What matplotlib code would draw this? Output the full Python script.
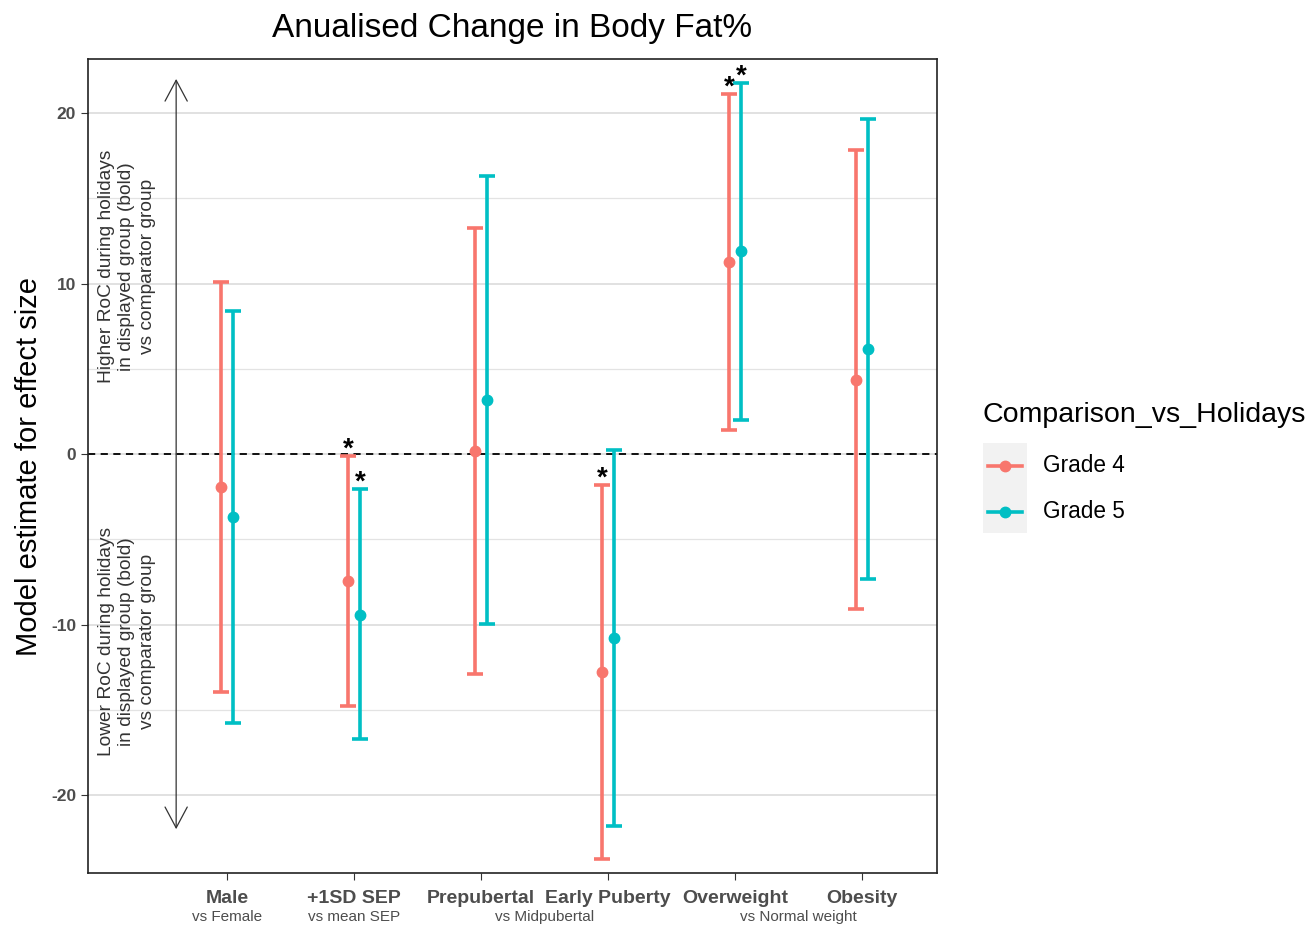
import matplotlib
matplotlib.use("Agg")
import matplotlib.pyplot as plt
from matplotlib.lines import Line2D
from matplotlib.patches import Rectangle
import matplotlib.transforms as mtransforms
import numpy as np

plt.rcParams['font.family'] = ['Liberation Sans', 'DejaVu Sans']
plt.rcParams['axes.unicode_minus'] = False

categories = ["Male", "+1SD SEP", "Prepubertal", "Early Puberty", "Overweight", "Obesity"]
sub_labels = ["vs Female", "vs mean SEP", "vs Midpubertal", "vs Normal weight"]
sub_label_pos = [1, 2, 3.5, 5.5]
groups = ["Grade 4", "Grade 5"]
colors = ["#F8766D", "#00BFC4"]

g4_est = [-1.95, -7.45, 0.18, -12.8, 11.26, 4.34]
g4_low = [-13.96, -14.8, -12.9, -23.75, 1.4, -9.1]
g4_high = [10.1, -0.1, 13.25, -1.8, 21.1, 17.83]
g4_sig = [False, True, False, True, True, False]

g5_est = [-3.7, -9.45, 3.17, -10.8, 11.9, 6.16]
g5_low = [-15.8, -16.7, -9.97, -21.8, 2.0, -7.33]
g5_high = [8.4, -2.05, 16.3, 0.23, 21.76, 19.65]
g5_sig = [False, True, False, False, True, False]

yticks = [-20, -10, 0, 10, 20]

W, H = 1314, 925
fig = plt.figure(figsize=(W/100, H/100), dpi=100)
ax = fig.add_axes([88/W, 1-873/H, (937-88)/W, (873-59)/H])

x = np.arange(1, len(categories)+1)
dodge = 0.047
series = [(g4_est, g4_low, g4_high, g4_sig), (g5_est, g5_low, g5_high, g5_sig)]
for i, (est, lo, hi, sig) in enumerate(series):
    xs = x + (-dodge if i == 0 else dodge)
    est = np.array(est); lo = np.array(lo); hi = np.array(hi)
    ax.errorbar(xs, est, yerr=[est-lo, hi-est], fmt='o', color=colors[i],
                ms=7.5, elinewidth=2.6, capsize=5.5, capthick=2.6, zorder=3)
    for xi, h, s in zip(xs, hi, sig):
        if s:
            ax.text(xi, h - 0.4, "*", ha='center', va='bottom', fontsize=20,
                    fontweight='bold', color='black', zorder=4)

ax.axhline(0, color='black', ls=(0, (4, 3)), lw=1.3, zorder=2)

ax.set_xlim(-0.094, 6.59)
ax.set_ylim(-24.57, 23.17)
ax.set_yticks(yticks)
ax.set_yticks([-15, -5, 5, 15], minor=True)
ax.grid(True, which='major', axis='y', color='#D9D9D9', lw=1.1, zorder=0)
ax.grid(True, which='minor', axis='y', color='#E3E3E3', lw=0.9, zorder=0)
ax.set_axisbelow(True)
ax.set_xticks(x)
ax.set_xticklabels(categories, fontsize=14, fontweight='bold', color='#4D4D4D')
ax.tick_params(axis='x', length=5, color='#333333', pad=7)
ax.tick_params(axis='y', which='major', length=5, color='#333333', labelsize=12.5, labelcolor='#4D4D4D')
ax.tick_params(axis='y', which='minor', length=0)
for lab in ax.get_yticklabels():
    lab.set_fontweight('bold')
for sp in ax.spines.values():
    sp.set_linewidth(1.2)
    sp.set_color('#222222')

sub_tr = mtransforms.blended_transform_factory(ax.transData, fig.transFigure)
for lab, pos in zip(sub_labels, sub_label_pos):
    ax.text(pos, 1 - 924/H, lab, transform=sub_tr,
            ha='center', va='bottom', fontsize=11, color='#4D4D4D')

ax.set_ylabel("Model estimate for effect size", fontsize=21, labelpad=6)
fig.text(512/W, 1 - 29/H, "Anualised Change in Body Fat%", ha='center', va='center', fontsize=24)

# arrow and annotations
arrow_style = '->,head_length=1.5,head_width=0.8'
ax.annotate("", xy=(0.6, 22), xytext=(0.6, 0), arrowprops=dict(arrowstyle=arrow_style, color='#333333', lw=0.9, shrinkA=0, shrinkB=0))
ax.annotate("", xy=(0.6, -22), xytext=(0.6, 0), arrowprops=dict(arrowstyle=arrow_style, color='#333333', lw=0.9, shrinkA=0, shrinkB=0))
ax.text(0.213, 11, "Higher RoC during holidays\nin displayed group (bold)\nvs comparator group",
        rotation=90, ha='center', va='center', fontsize=13.8, color='#333333', linespacing=1.3)
ax.text(0.213, -11, "Lower RoC during holidays\nin displayed group (bold)\nvs comparator group",
        rotation=90, ha='center', va='center', fontsize=13.8, color='#333333', linespacing=1.3)

# legend (ggplot-style)
fig.text(983/W, 1 - 415/H, "Comparison_vs_Holidays", ha='left', va='center', fontsize=20.5)
fig.add_artist(Rectangle((983/W, 1 - 533/H), 44/W, 90/H, transform=fig.transFigure,
                         facecolor='#F2F2F2', edgecolor='none'))
for c, g, yy in zip(colors, groups, [466, 512]):
    fig.add_artist(Line2D([988/W, 1022/W], [1 - yy/H, 1 - yy/H], transform=fig.transFigure,
                          color=c, lw=2.6))
    fig.add_artist(Line2D([1005/W], [1 - yy/H], transform=fig.transFigure,
                          color=c, marker='o', ms=7.5, lw=0))
    fig.text(1043/W, 1 - yy/H, g, ha='left', va='center', fontsize=16.3)

fig.savefig("out.png", dpi=100)
